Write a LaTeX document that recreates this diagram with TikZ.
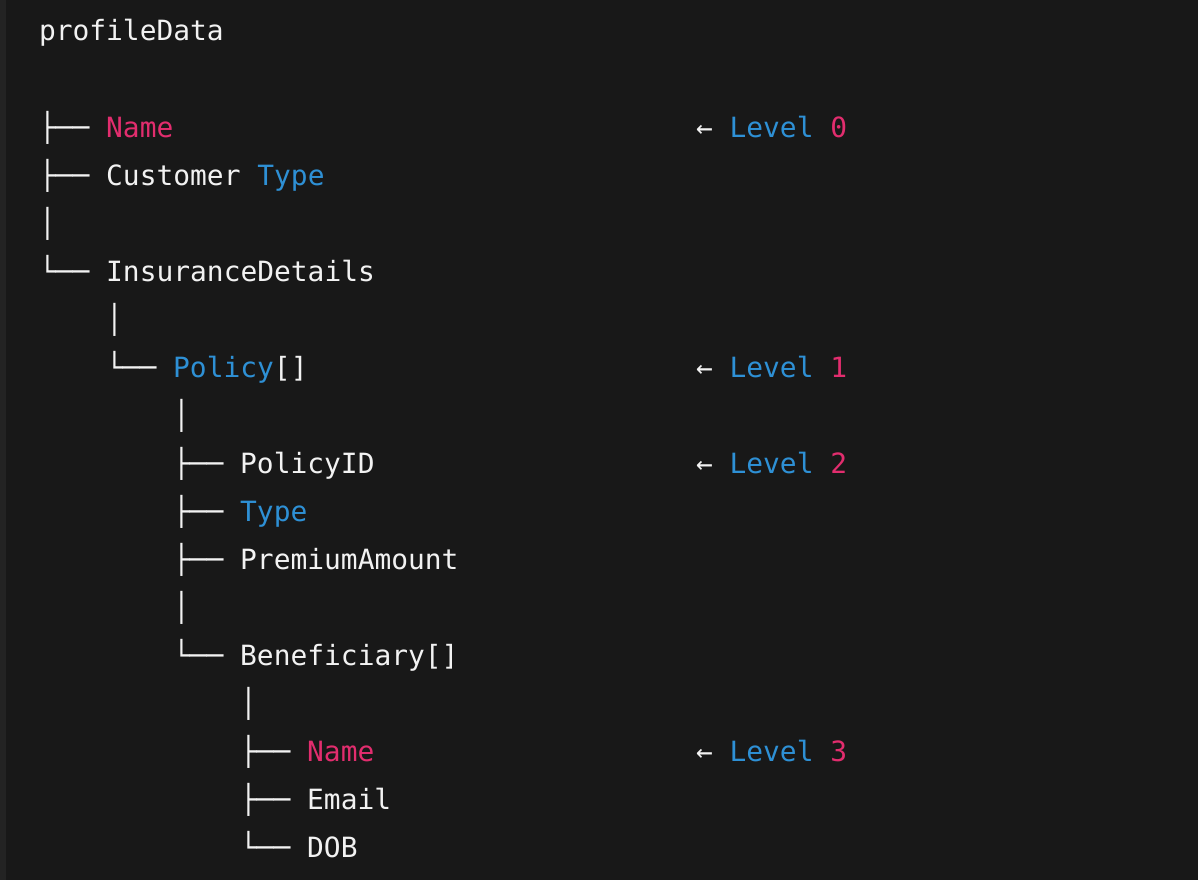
\documentclass[tikz,border=0pt]{standalone}
\usepackage{fontspec}
\newfontfamily\codefont{DejaVu Sans Mono}
\definecolor{bg}{HTML}{181818}
\definecolor{strip}{HTML}{232323}
\definecolor{fg}{HTML}{F2F2F2}
\definecolor{pk}{HTML}{E22D6E}
\definecolor{bl}{HTML}{2E90D5}
\begin{document}
\begin{tikzpicture}[x=1pt,y=-1pt,
  code/.style={anchor=base west,inner sep=0pt,outer sep=0pt,text=fg,font=\codefont\fontsize{27.9}{48}\selectfont}]
\fill[bg] (0,0) rectangle (1198,880);
\fill[strip] (0,0) rectangle (6,880);
\useasboundingbox (0,0) rectangle (1198,880);
\def\cw{16.75}
\def\xo{39}
% rows: baseline = 41 + 48*r
\node[code] (l0) at (\xo,41) {profileData};
\node[code] (l2) at (\xo,137) {├── \textcolor{pk}{Name}};
\node[code] (l3) at (\xo,185) {├── Customer \textcolor{bl}{Type}};
\node[code] (l4) at (\xo,233) {│};
\node[code] (l5) at (\xo,281) {└── InsuranceDetails};
\node[code] (l6) at (\xo+4*\cw,329) {│};
\node[code] (l7) at (\xo+4*\cw,377) {└── \textcolor{bl}{Policy}[]};
\node[code] (l8) at (\xo+8*\cw,425) {│};
\node[code] (l9) at (\xo+8*\cw,473) {├── PolicyID};
\node[code] (l10) at (\xo+8*\cw,521) {├── \textcolor{bl}{Type}};
\node[code] (l11) at (\xo+8*\cw,569) {├── PremiumAmount};
\node[code] (l12) at (\xo+8*\cw,617) {│};
\node[code] (l13) at (\xo+8*\cw,665) {└── Beneficiary[]};
\node[code] (l14) at (\xo+12*\cw,713) {│};
\node[code] (l15) at (\xo+12*\cw,761) {├── \textcolor{pk}{Name}};
\node[code] (l16) at (\xo+12*\cw,809) {├── Email};
\node[code] (l17) at (\xo+12*\cw,857) {└── DOB};
% level annotations
\def\lx{696}
\node[code] (lv0) at (\lx,137) {← \textcolor{bl}{Level} \textcolor{pk}{0}};
\node[code] (lv1) at (\lx,377) {← \textcolor{bl}{Level} \textcolor{pk}{1}};
\node[code] (lv2) at (\lx,473) {← \textcolor{bl}{Level} \textcolor{pk}{2}};
\node[code] (lv3) at (\lx,761) {← \textcolor{bl}{Level} \textcolor{pk}{3}};
\end{tikzpicture}
\end{document}
